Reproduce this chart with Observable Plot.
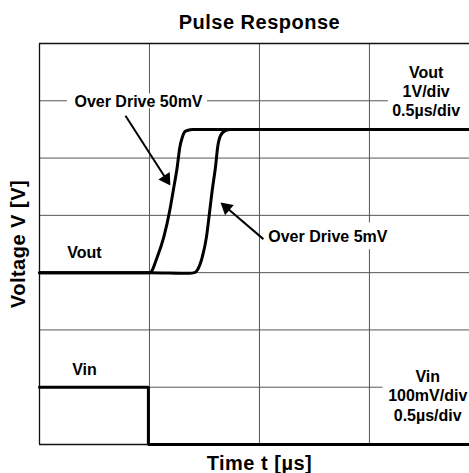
<!DOCTYPE html>
<html>
<head>
<meta charset="utf-8">
<script src="https://cdn.jsdelivr.net/npm/d3@7"></script>
<script src="https://cdn.jsdelivr.net/npm/@observablehq/plot@0.6"></script>
<style>
  html, body { margin: 0; padding: 0; background: #fff; }
  #chart svg text { font-family: "Liberation Sans", Arial, sans-serif; font-weight: bold; }
</style>
</head>
<body>
<div id="chart"></div>
<script>
// ---- data (time in µs, Vout in V, Vin in mV) ----
const timeOD50 = [0, 0.50, 0.502, 0.535, 0.565, 0.592, 0.608, 0.626, 0.638, 0.649, 0.664, 0.694, 1.955];
const voutOD50 = [0, 0, 0, 0.27, 0.62, 1.08, 1.43, 1.84, 2.19, 2.36, 2.47, 2.50, 2.50];
const timeOD5  = [0, 0.50, 0.68, 0.705, 0.72, 0.740, 0.759, 0.774, 0.785, 0.800, 0.810, 0.823, 0.845, 0.868, 1.955];
const voutOD5  = [0, 0, -0.01, 0.0, 0.06, 0.27, 0.62, 1.08, 1.43, 1.84, 2.19, 2.39, 2.48, 2.50, 2.50];
const timeVin  = [0, 0.495, 0.495, 1.955];
const vinMv    = [100, 100, 0, 0];

const xGrid = [0.5, 1.0, 1.5];          // 0.5 µs/div
const yGrid = [1, 2, 3, 4, 5, 6];        // divisions
const voutPerDiv = 1;    // V/div
const vinPerDiv = 100;   // mV/div
const voutOffsetDiv = 3; // Vout zero on 3rd division

// ---- layout ----
const W = 469, H = 473, ML = 39, MR = 0, MT = 43, MB = 29;
const xMax = 1.955, yMax = 7;
const kx = (W - ML - MR) / xMax, ky = (H - MT - MB) / yMax;
const headR = 5;
const headBack = 2 * Math.sqrt(Math.PI * headR * headR / (3 * Math.sqrt(3)));

const od50 = timeOD50.map((t, i) => ({t, y: voutOffsetDiv + voutOD50[i] / voutPerDiv}));
const od5 = timeOD5.map((t, i) => ({t, y: voutOffsetDiv + voutOD5[i] / voutPerDiv}));
const vin = timeVin.map((t, i) => ({t, y: vinMv[i] / vinPerDiv}));

// annotation arrows (data coordinates: µs, div)
const arrows = [
  {x1: 0.391, y1: 5.74, x2: 0.595, y2: 4.52},
  {x1: 1.018, y1: 3.585, x2: 0.823, y2: 4.224}
].map(a => {
  const dx = (a.x2 - a.x1) * kx, dy = -(a.y2 - a.y1) * ky;
  const L = Math.hypot(dx, dy), ux = dx / L, uy = dy / L;
  return {...a, hx: a.x2 - headBack * ux / kx, hy: a.y2 + headBack * uy / ky,
          angle: Math.atan2(dx, -dy) * 180 / Math.PI};
});

const masks = [
  {x1: 0.127, x2: 0.764, y1: 5.86, y2: 6.12},
  {x1: 1.586, x2: xMax, y1: 5.85, y2: 6.15},
  {x1: 1.03, x2: 1.595, y1: 3.40, y2: 3.87},
  {x1: 1.562, x2: xMax, y1: 0.85, y2: 1.15}
];

const labels = [
  {x: 0.45, y: 6, text: "Over Drive 50mV"},
  {x: 1.758, y: 6.177, text: "Vout\n1V/div\n0.5µs/div"},
  {x: 1.311, y: 3.634, text: "Over Drive 5mV"},
  {x: 0.2045, y: 3.364, text: "Vout"},
  {x: 0.2045, y: 1.321, text: "Vin"},
  {x: 1.765, y: 0.859, text: "Vin\n100mV/div\n0.5µs/div"}
];

const chart = Plot.plot({
  width: W, height: H,
  marginLeft: ML, marginRight: MR, marginTop: MT, marginBottom: MB,
  x: {domain: [0, xMax], axis: null},
  y: {domain: [0, yMax], axis: null},
  style: {fontFamily: "'Liberation Sans', Arial, sans-serif", background: "#fff"},
  marks: [
    Plot.ruleX(xGrid, {stroke: "#555", strokeWidth: 1}),
    Plot.ruleY(yGrid, {stroke: "#555", strokeWidth: 1}),
    Plot.rect(masks, {x1: "x1", x2: "x2", y1: "y1", y2: "y2", fill: "#fff"}),
    Plot.ruleX([0], {stroke: "#111", strokeWidth: 1.3}),
    Plot.ruleY([0, yMax], {stroke: "#111", strokeWidth: 1.3}),
    Plot.line(vin, {x: "t", y: "y", stroke: "#000", strokeWidth: 3, strokeLinejoin: "miter"}),
    Plot.line(od5, {x: "t", y: "y", stroke: "#000", strokeWidth: 3, curve: "monotone-x"}),
    Plot.line(od50, {x: "t", y: "y", stroke: "#000", strokeWidth: 3, curve: "monotone-x"}),
    Plot.link(arrows, {x1: "x1", y1: "y1", x2: "hx", y2: "hy", stroke: "#000", strokeWidth: 2}),
    Plot.dot(arrows, {x: "hx", y: "hy", symbol: "triangle", r: headR, fill: "#000", stroke: "none", rotate: "angle"}),
    Plot.text(labels, {x: "x", y: "y", text: "text", fontSize: 16, fontWeight: "bold", fill: "#000", lineHeight: 1.2, textAnchor: "middle", lineAnchor: "middle"}),
    Plot.text(["Pulse Response"], {x: 1.0, frameAnchor: "top", dy: -21, lineAnchor: "middle", textAnchor: "middle", fontSize: 20, fontWeight: "bold", fill: "#000"}),
    Plot.text(["Time t [µs]"], {x: 1.0, frameAnchor: "bottom", dy: 19, lineAnchor: "middle", textAnchor: "middle", fontSize: 20, fontWeight: "bold", fill: "#000"}),
    Plot.text(["Voltage V [V]"], {y: 3.5, frameAnchor: "left", dx: -21, rotate: -90, lineAnchor: "middle", textAnchor: "middle", fontSize: 20, fontWeight: "bold", fill: "#000"})
  ]
});
d3.select(chart).selectAll("text").style("letter-spacing", function() {
  const fs = +d3.select(this.closest("g")).attr("font-size");
  return fs >= 20 ? "0.5px" : null;
});
document.getElementById("chart").appendChild(chart);
</script>
</body>
</html>
